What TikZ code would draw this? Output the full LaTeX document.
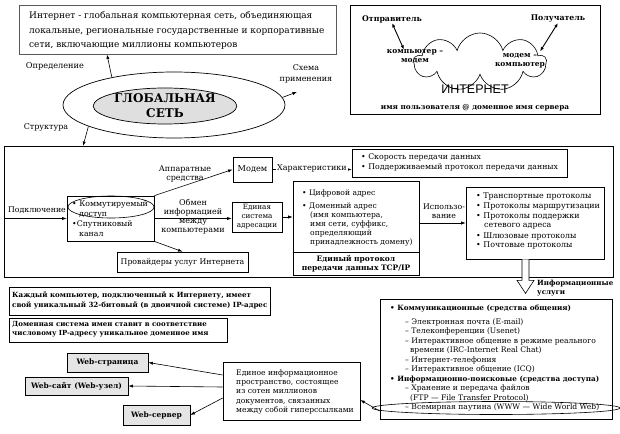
\documentclass[tikz,border=0pt]{standalone}
\usepackage{fontspec}
\setmainfont{DejaVu Serif}
\newfontfamily\inetfont{Liberation Sans}
\usetikzlibrary{shapes.geometric,shapes.symbols,arrows.meta,calc}
\newcommand\fz[2]{\fontsize{#1pt}{#2pt}\selectfont}
\begin{document}
\begin{tikzpicture}[x=1pt,y=-1pt,
  box/.style={draw,line width=0.7pt,inner sep=0pt},
  gbox/.style={box,fill=gray!20},
  arr/.style={-{Latex[length=4.5pt,width=3.2pt]},line width=0.6pt},
  darr/.style={{Latex[length=4.5pt,width=3.2pt]}-{Latex[length=4.5pt,width=3.2pt]},line width=0.9pt},
  tl/.style={inner sep=0pt,align=left,anchor=north west},
  tc/.style={inner sep=0pt,align=center}]
\fill[white] (0,0) rectangle (620,433);
\useasboundingbox (0,0) rectangle (620,433);

% definition
\node[box,line width=0.5pt,draw=gray!70!black,minimum width=317pt,minimum height=49pt] (defbox) at (177.5,29.5) {};
\node[tl,font=\fz{9}{14.3}] (deftext) at (29,11.7) {Интернет - глобальная компьютерная сеть, объединяющая\\локальные, региональные государственные и корпоративные\\сети, включающие миллионы компьютеров};

% internet scheme
\node[box,minimum width=250pt,minimum height=109pt] (netbox) at (475,59.5) {};
\node[tc,font=\fz{7.8}{9}\bfseries] (sender) at (392,19) {Отправитель};
\node[tc,font=\fz{7.8}{9}\bfseries] (receiver) at (558,19) {Получатель};
\node[cloud,draw,line width=0.6pt,cloud puffs=9,cloud ignores aspect,minimum width=132pt,minimum height=58pt,inner sep=0pt] (cloud) at (480,62) {};
\node[tc,font=\fz{7.5}{9}\bfseries] (cm1) at (415,57) {компьютер –\\модем};
\node[tc,font=\fz{7.5}{9}\bfseries] (cm2) at (520,61) {модем –\\компьютер};
\node[tc,font=\inetfont\fz{12.5}{14}] (inet) at (475,89) {ИНТЕРНЕТ};
\node[tc,font=\fz{7.3}{9}\bfseries] (email) at (475,108) {имя пользователя @ доменное имя сервера};
\draw[darr] (sender.south) -- ([xshift=-11pt]cm1.north);
\draw[darr] (receiver.south) -- ([xshift=20pt,yshift=2pt]cm2.north);

% global network
\node[ellipse,draw,line width=0.7pt,minimum width=222pt,minimum height=66pt,inner sep=0pt] (glob) at (174,105) {};
\node[ellipse,draw,line width=0.7pt,fill=gray!25,minimum width=110pt,minimum height=36pt,inner sep=0pt,align=center,font=\fz{12}{15}\bfseries] (core) at (165,106) {ГЛОБАЛЬНАЯ\\СЕТЬ};
\node[tc,font=\fz{8.2}{10}] (ldef) at (55,66) {Определение};
\node[tc,font=\fz{8}{11.5}] (lsch) at (306,74) {Схема\\применения};
\node[tc,font=\fz{8}{10}] (lstr) at (46,127) {Структура};

% big frame
\node[box,minimum width=609pt,minimum height=131pt] (frame) at (308.5,211.5) {};

\coordinate (defend) at (107,54.5);
\coordinate (schend) at (297,92);
\coordinate (strend) at (83,146);
\draw[arr] (glob.156) -- (defend);
\draw[arr] (glob.4) -- (schend);
\draw[arr] (glob.194) -- (strend);

% access
\node[tc,font=\fz{7.8}{10}] (podkl) at (37,210) {Подключение};
\node[box,minimum width=87pt,minimum height=45pt] (accbox) at (110.5,218.5) {};
\node[tl,font=\fz{7.8}{10}] (acctext) at (72,200.2) {• Коммутируемый\\\hspace*{7pt}доступ\\•Спутниковый\\\hspace*{7pt}канал};
\node[ellipse,draw,line width=0.6pt,minimum width=86pt,minimum height=22pt,inner sep=0pt] (accell) at (111,207) {};
\draw[arr] (accbox.west -| frame.west) -- (accbox.west);

% modem
\node[box,minimum width=39pt,minimum height=25pt,font=\fz{8.2}{10}] (modem) at (252.5,169.5) {Модем};
\node[tc,font=\fz{8}{9}] (apparat) at (185,174) {Аппаратные\\средства};
\draw[arr] (accbox.north east) -- (modem.west);
\node[box,minimum width=215pt,minimum height=28pt] (speedbox) at (459.5,163) {};
\node[tl,font=\fz{7.8}{10}] (speedtext) at (361,153.1) {• Скорость передачи данных\\• Поддерживаемый протокол передачи данных};
\draw[arr] (modem.east) -- (modem.east -| speedbox.west);
\node[tc,fill=white,inner sep=1pt,font=\fz{8}{10}] (charact) at (312,168.5) {Характеристики};

% addressing
\node[tc,font=\fz{8}{9}] (obmen) at (193,216.5) {Обмен\\информацией\\между\\компьютерами};
\node[box,minimum width=50pt,minimum height=30pt,align=center,font=\fz{7.2}{9}] (addrsys) at (257,217) {Единая\\система\\адресации};
\draw[arr] (accbox.east) -- (accbox.east -| addrsys.west);
\node[box,minimum width=126pt,minimum height=94pt] (addrbox) at (356,228) {};
\draw[line width=0.6pt] ([yshift=23pt]addrbox.south west) -- ([yshift=23pt]addrbox.south east);
\node[tl,font=\fz{7.6}{9}] (addrtext) at (302,189.2) {• Цифровой адрес\\[4pt]• Доменный адрес\\\hspace*{8pt}(имя компьютера,\\\hspace*{8pt}имя сети, суффикс,\\\hspace*{8pt}определяющий\\\hspace*{8pt}принадлежность домену)};
\node[tc,font=\fz{7.5}{9}\bfseries] (tcpip) at (356,263.5) {Единый протокол\\передачи данных TCP/IP};
\draw[arr] (addrsys.east) -- (addrsys.east -| addrbox.west);

% protocols
\node[box,minimum width=138pt,minimum height=72pt] (protbox) at (535,223) {};
\node[tl,font=\fz{7.9}{9.6}] (prottext) at (476,193) {• Транспортные протоколы\\• Протоколы маршрутизации\\• Протоколы поддержки\\\hspace*{8pt}сетевого адреса\\[1pt]• Шлюзовые протоколы\\• Почтовые протоколы};
\node[tc,font=\fz{7.8}{8.5}] (ispol) at (444,211) {Использо-\\вание};
\draw[arr] (protbox.west -| addrbox.east) -- (protbox.west);

% providers
\node[box,minimum width=131pt,minimum height=20pt,font=\fz{7.8}{10}] (prov) at (182.5,262) {Провайдеры услуг Интернета};
\draw[arr] (accbox.south east) -- (prov.north);

% hollow arrow
\coordinate (hollow) at ([xshift=-9.5pt]protbox.south);
\draw[line width=0.6pt,fill=white] ($(hollow)+(-3.5,0)$) -- ++(0,21) -- ++(-5,0) -- ($(hollow)+(0,34)$) -- ($(hollow)+(8.5,21)$) -- ++(-5,0) -- ($(hollow)+(3.5,0)$);
\node[tl,font=\fz{7.1}{9}\bfseries] (infousl) at (537,279.6) {Информационные\\услуги};

% services
\node[box,minimum width=232pt,minimum height=120pt] (servbox) at (496,359) {};
\node[tl,font=\fz{7.6}{9.5}] (servtext) at (390,305.2) {{\bfseries\fz{7.2}{9.5}• Коммуникационные (средства общения)}\\[4pt]
\hspace*{15pt}– Электронная почта (E-mail)\\
\hspace*{15pt}– Телеконференции (Usenet)\\
\hspace*{15pt}– Интерактивное общение в режиме реального\\
\hspace*{20pt}времени (IRC-Internet Real Chat)\\
\hspace*{15pt}– Интернет-телефония\\
\hspace*{15pt}– Интерактивное общение (ICQ)\\
{\bfseries\fz{7.2}{9.5}• Информационно-поисковые (средства доступа)}\\
\hspace*{15pt}– Хранение и передача файлов\\
\hspace*{20pt}(FTP — File Transfer Protocol)\\
\hspace*{15pt}– Всемирная паутина (WWW — Wide World Web)};
\node[ellipse,draw,line width=0.6pt,minimum width=248pt,minimum height=13pt,inner sep=0pt] (wwwell) at (496,408) {};

% left info boxes
\node[box,line width=0.9pt,minimum width=261pt,minimum height=28pt] (ipbox) at (139.5,301) {};
\node[tl,font=\fz{7.1}{10}\bfseries] (iptext) at (12,291.6) {Каждый компьютер, подключенный к Интернету, имеет\\свой уникальный 32-битовый (в двоичной системе) IP-адрес};
\node[box,line width=0.9pt,minimum width=218pt,minimum height=24pt] (dnsbox) at (118,330) {};
\node[tl,font=\fz{7}{9}\bfseries] (dnstext) at (12,320.7) {Доменная система имен ставит в соответствие\\числовому IP-адресу уникальное доменное имя};

% web
\node[gbox,minimum width=81pt,minimum height=19pt,font=\fz{7.5}{9}\bfseries] (webpage) at (107.5,362.5) {Web-страница};
\node[gbox,minimum width=103pt,minimum height=18pt,font=\fz{7.5}{9}\bfseries] (website) at (76.5,386) {Web-сайт (Web-узел)};
\node[gbox,minimum width=67pt,minimum height=20pt,font=\fz{7.5}{9}\bfseries] (webserver) at (156.5,415) {Web-сервер};
\node[box,minimum width=137pt,minimum height=58pt] (wwwbox) at (291.5,391) {};
\node[tl,font=\fz{7.6}{9.3}] (wwwtext) at (236,369.2) {Единое информационное\\пространство, состоящее\\из сотен миллионов\\документов, связанных\\между собой гиперссылками};
\draw[arr] ([yshift=16pt]wwwbox.west) -- (webpage.east);
\draw[arr] ([yshift=4pt]wwwbox.west) -- (website.east);
\draw[arr] ([yshift=-7pt]wwwbox.west) -- (webserver.east);
\draw[arr] ([xshift=8pt,yshift=-3pt]wwwell.west) -- ([yshift=-9pt]wwwbox.east);
\end{tikzpicture}
\end{document}
